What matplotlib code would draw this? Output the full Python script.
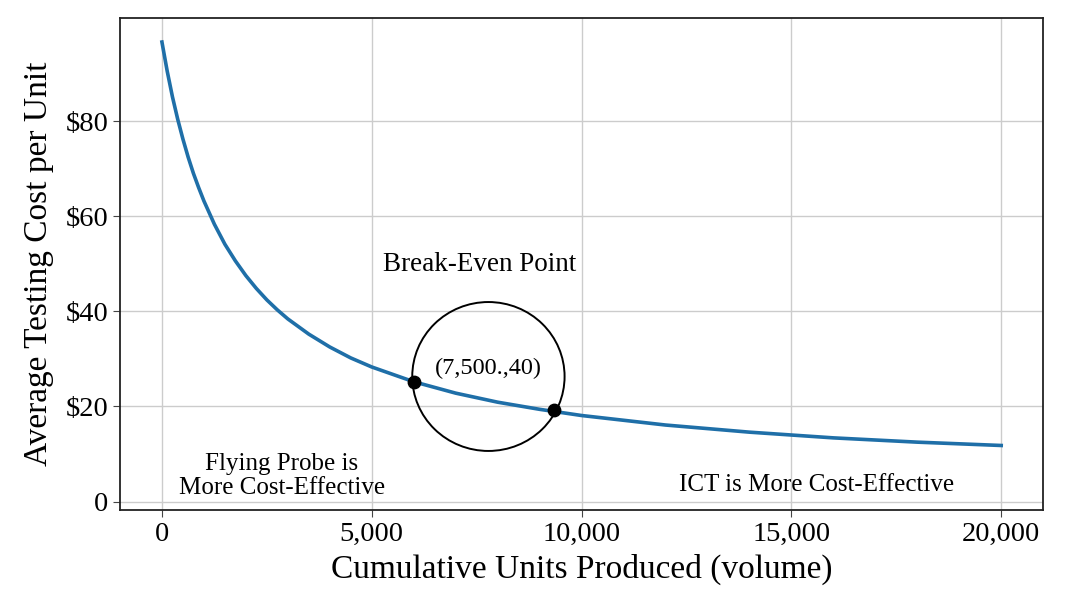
import matplotlib.pyplot as plt
from matplotlib.patches import Ellipse

# values
units = [0, 125, 250, 375, 500, 625, 750, 875, 1000, 1250, 1500, 1750, 2000,
         2250, 2500, 2750, 3000, 3500, 4000, 4500, 5000, 6000, 7000, 8000,
         9000, 10000, 12000, 14000, 16000, 18000, 20000]
cost = [96.6, 90.5, 85.1, 80.4, 76.2, 72.4, 69.0, 66.0, 63.2, 58.3, 54.1, 50.6, 47.5,
        44.8, 42.4, 40.3, 38.4, 35.2, 32.5, 30.2, 28.3, 25.2, 22.8, 20.9,
        19.4, 18.1, 16.1, 14.6, 13.4, 12.5, 11.8]
dot_x = [6000, 9350]
dot_y = [25.2, 19.2]
xticks = [0, 5000, 10000, 15000, 20000]
xtick_labels = ["0", "5,000", "10,000", "15,000", "20,000"]
yticks = [0, 20, 40, 60, 80]
ytick_labels = ["0", "$20", "$40", "$60", "$80"]

plt.rcParams['font.family'] = ['Liberation Serif', 'DejaVu Serif']

fig = plt.figure(figsize=(10.76, 5.92), dpi=100)
ax = fig.add_axes([0.1115, 0.139, 0.858, 0.831])

ax.plot(units, cost, color='#1f6fa8', lw=2.6, zorder=3)
ax.scatter(dot_x, dot_y, s=80, color='black', zorder=5)
ax.add_patch(Ellipse((7780, 26.3), 3630, 31.3, fill=False, ec='black', lw=1.4, zorder=4))

ax.text(7780, 27.9, "(7,500.,40)", ha='center', va='center', fontsize=17.5)
ax.text(7570, 49.8, "Break-Even Point", ha='center', va='center', fontsize=19.5)
ax.text(2860, 5.4, "Flying Probe is\nMore Cost-Effective", ha='center', va='center',
        fontsize=18, linespacing=1.1)
ax.text(15600, 3.4, "ICT is More Cost-Effective", ha='center', va='center', fontsize=18)

ax.set_xlim(-1000, 21000)
ax.set_ylim(-1.7, 101.7)
ax.set_xticks(xticks)
ax.set_xticklabels(xtick_labels)
ax.set_yticks(yticks)
ax.set_yticklabels(ytick_labels)
ax.tick_params(labelsize=20.5, length=5, color='#444444')
ax.grid(True, color='#cccccc', lw=1.0)
ax.set_axisbelow(True)
for s in ax.spines.values():
    s.set_color('#222222')
    s.set_linewidth(1.3)

ax.set_xlabel("Cumulative Units Produced (volume)", fontsize=24, labelpad=5)
ax.set_ylabel("Average Testing Cost per Unit", fontsize=24, labelpad=8)

fig.savefig("out.png", dpi=100)
